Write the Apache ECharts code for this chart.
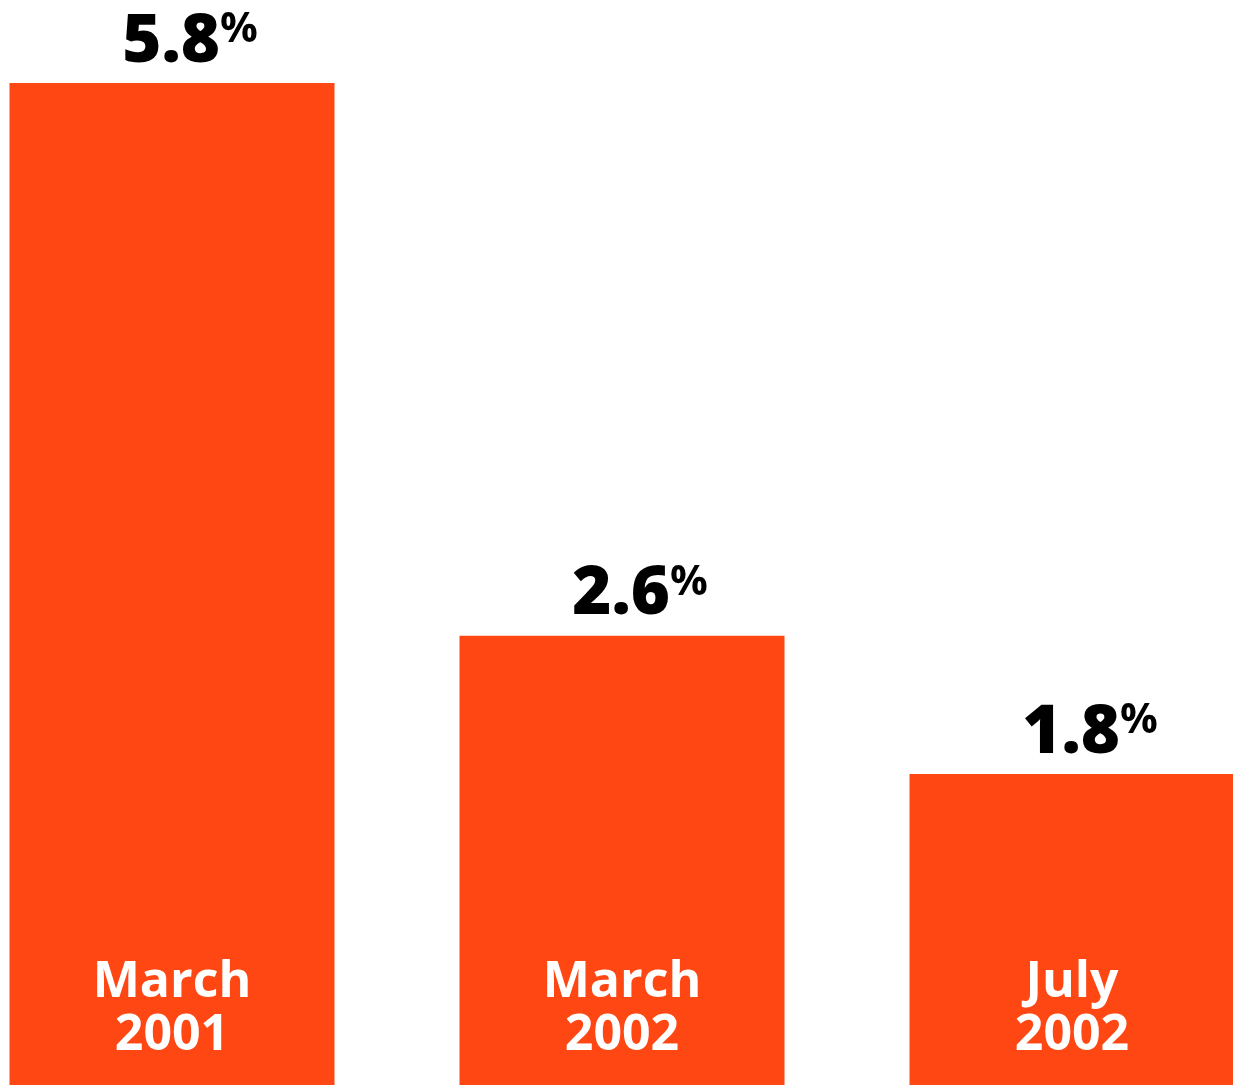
<!DOCTYPE html>
<html>
<head>
<meta charset="utf-8">
<script src="https://cdn.jsdelivr.net/npm/echarts@6/dist/echarts.min.js"></script>
<style>
  html, body { margin: 0; padding: 0; background: #fff; }
  #chart { width: 1233px; height: 1085px; }
</style>
</head>
<body>
<div id="chart"></div>
<script>
// * Periods and values (percent)
const categories = ["March\n2001", "March\n2002", "July\n2002"];
const values = [5.8, 2.6, 1.8];

const barColor = "#FF4713";
const fontFamily = "'Open Sans', Lato, sans-serif";

const myChart = echarts.init(document.getElementById("chart"));

const option = {
  animation: false,
  // * Bars sit on the tick positions, so the grid spans first to last bar centre
  grid: {
    left: 172,
    right: 161,
    top: 0,
    bottom: 0,
    containLabel: false,
  },
  xAxis: {
    type: "category",
    data: categories,
    boundaryGap: false,
    z: 10,
    axisLine: { show: false },
    axisTick: { show: false },
    splitLine: { show: false },
    axisLabel: {
      inside: true,
      margin: 23,
      color: "#fff",
      fontFamily: fontFamily,
      fontWeight: "bold",
      fontSize: 50,
      lineHeight: 53,
      verticalAlign: "bottom",
    },
  },
  yAxis: {
    type: "value",
    min: 0,
    max: 6.28,
    show: false,
    splitLine: { show: false },
  },
  series: [
    {
      type: "bar",
      data: values,
      barWidth: 325,
      clip: false,
      itemStyle: { color: barColor },
      label: {
        show: true,
        position: "top",
        distance: 7,
        offset: [18, 0],
        formatter: (p) => "{n|" + p.value.toFixed(1) + "}{p|%}",
        rich: {
          n: {
            fontFamily: fontFamily,
            fontWeight: 800,
            fontSize: 67,
            color: "#000",
          },
          p: {
            fontFamily: fontFamily,
            fontWeight: "bold",
            fontSize: 42,
            color: "#000",
            verticalAlign: "top",
          },
        },
      },
    },
  ],
};

myChart.setOption(option);
</script>
</body>
</html>
